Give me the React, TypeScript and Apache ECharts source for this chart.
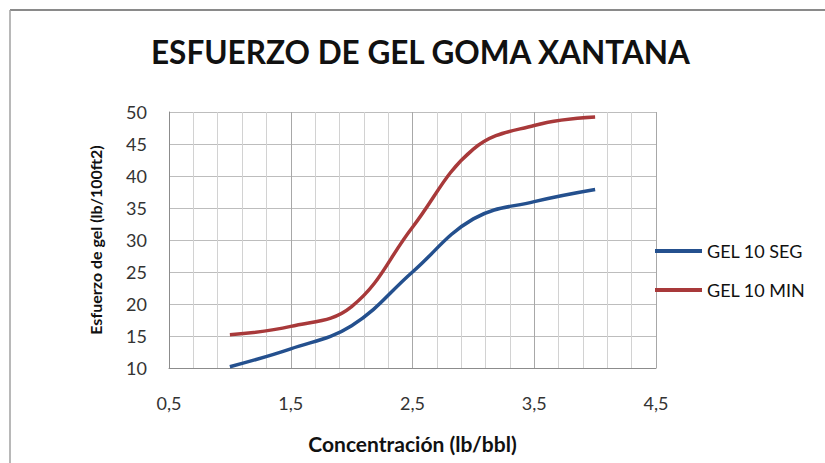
import React, { useEffect, useRef } from "react";
import * as echarts from "echarts";

const concentracion = [1, 1.5, 2, 2.5, 3, 3.5, 4];
const gel10Seg = [10.2, 13.0, 16.6, 25.0, 33.3, 36.0, 37.9];
const gel10Min = [15.2, 16.5, 19.6, 32.0, 44.2, 47.9, 49.2];
const seriesNames = ["GEL 10 SEG", "GEL 10 MIN"];
const titleText = "ESFUERZO DE GEL GOMA XANTANA";
const xName = "Concentración (lb/bbl)";
const yName = "Esfuerzo de gel (lb/100ft2)";

const FONT = "Lato, 'Open Sans', sans-serif";

export default function App() {
  const ref = useRef<HTMLDivElement>(null);
  useEffect(() => {
    if (!ref.current) return;
    const chart = echarts.init(ref.current, undefined, { renderer: "svg" });
    const pair = (xs: number[], ys: number[]) => xs.map((x, i) => [x, ys[i]]);
    chart.setOption({
      animation: false,
      backgroundColor: "#ffffff",
      textStyle: { fontFamily: FONT },
      title: {
        text: titleText,
        left: 146,
        top: 31,
        textStyle: { fontFamily: FONT, fontWeight: "bold", fontSize: 31.5, color: "#111" },
      },
      graphic: [
        { type: "line", shape: { x1: 10, y1: 10, x2: 825, y2: 10 }, style: { stroke: "#8a8a8a", lineWidth: 2 } },
        { type: "line", shape: { x1: 10, y1: 10, x2: 10, y2: 463 }, style: { stroke: "#a0a0a0", lineWidth: 1.5 } },
      ],
      legend: {
        orient: "vertical",
        left: 650,
        top: 237,
        icon: "rect",
        itemWidth: 47,
        itemHeight: 4,
        itemGap: 21,
        textStyle: { fontFamily: FONT, fontSize: 18, color: "#111" },
        data: seriesNames,
      },
      grid: { left: 169, right: 169, top: 112, bottom: 95 },
      xAxis: {
        type: "value",
        min: 0.5,
        max: 4.5,
        interval: 1,
        name: xName,
        nameLocation: "middle",
        nameGap: 65,
        nameTextStyle: { fontFamily: FONT, fontWeight: "bold", fontSize: 21, color: "#111" },
        axisLine: { show: true, lineStyle: { color: "#8c8c8c", width: 1 } },
        axisTick: { show: false },
        axisLabel: {
          margin: 26,
          fontSize: 18,
          color: "#333",
          fontFamily: FONT,
          formatter: (v: number) => v.toFixed(1).replace(".", ","),
        },
        splitLine: { show: true, lineStyle: { color: "#a8a8a8", width: 1 } },
        minorTick: { show: false, splitNumber: 5 },
        minorSplitLine: { show: true, lineStyle: { color: "#d2d2d2", width: 1 } },
      },
      yAxis: {
        type: "value",
        min: 10,
        max: 50,
        interval: 5,
        name: yName,
        nameLocation: "middle",
        nameGap: 66,
        nameTextStyle: { fontFamily: FONT, fontWeight: "bold", fontSize: 16, color: "#111" },
        axisLine: { show: true, lineStyle: { color: "#8c8c8c", width: 1 } },
        axisTick: { show: false },
        axisLabel: { margin: 22, fontSize: 18, color: "#333", fontFamily: FONT },
        splitLine: { show: true, lineStyle: { color: "#bdbdbd", width: 1 } },
      },
      series: [
        {
          name: seriesNames[0],
          type: "line",
          smooth: 0.4,
          showSymbol: false,
          symbol: "none",
          data: pair(concentracion, gel10Seg),
          lineStyle: { color: "#24508e", width: 3.5 },
          itemStyle: { color: "#24508e" },
        },
        {
          name: seriesNames[1],
          type: "line",
          smooth: 0.4,
          showSymbol: false,
          symbol: "none",
          data: pair(concentracion, gel10Min),
          lineStyle: { color: "#a8393a", width: 3.5 },
          itemStyle: { color: "#a8393a" },
        },
      ],
    });
    return () => chart.dispose();
  }, []);
  return <div ref={ref} style={{ width: 825, height: 463, position: "absolute", left: 0, top: 0 }} />;
}
